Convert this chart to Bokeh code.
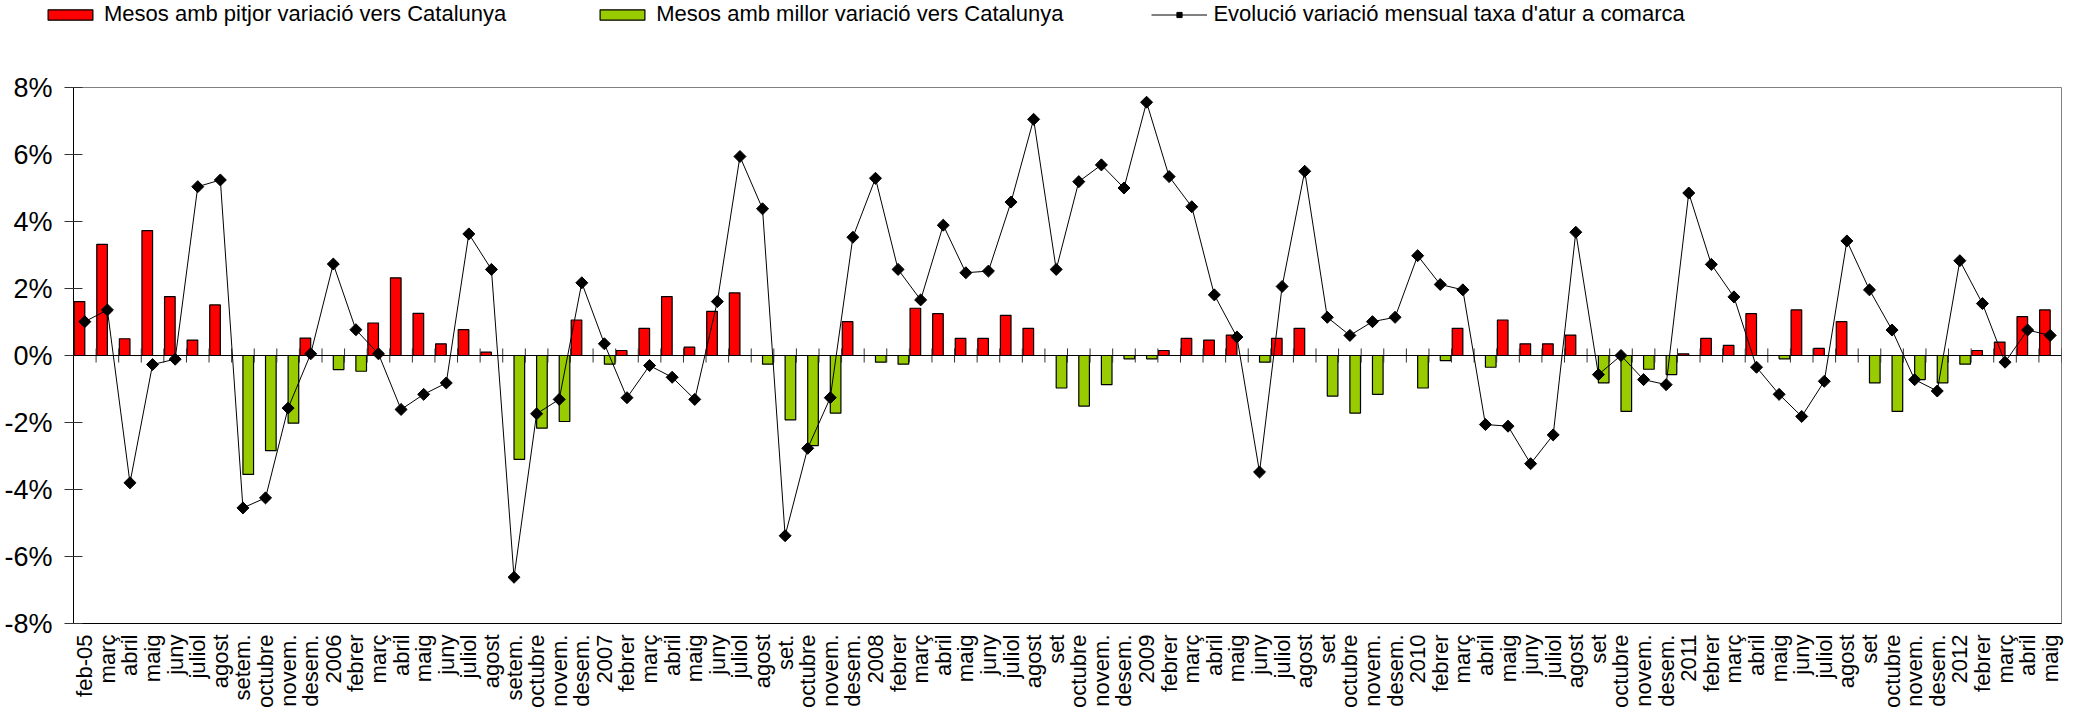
import numpy as np
from math import pi
from bokeh.plotting import figure
from bokeh.layouts import column
from bokeh.models import Range1d, FixedTicker, PrintfTickFormatter, Legend, LegendItem, Span
from bokeh.embed import file_html
from bokeh.resources import INLINE

# ---- data -------------------------------------------------------------
months = [
    "feb-05", "març", "abril", "maig", "juny", "juliol", "agost", "setem.", "octubre", "novem.", "desem.",
    "2006", "febrer", "març", "abril", "maig", "juny", "juliol", "agost", "setem.", "octubre", "novem.", "desem.",
    "2007", "febrer", "març", "abril", "maig", "juny", "juliol", "agost", "set.", "octubre", "novem.", "desem.",
    "2008", "febrer", "març", "abril", "maig", "juny", "juliol", "agost", "set", "octubre", "novem.", "desem.",
    "2009", "febrer", "març", "abril", "maig", "juny", "juliol", "agost", "set", "octubre", "novem.", "desem.",
    "2010", "febrer", "març", "abril", "maig", "juny", "juliol", "agost", "set", "octubre", "novem.", "desem.",
    "2011", "febrer", "març", "abril", "maig", "juny", "juliol", "agost", "set", "octubre", "novem.", "desem.",
    "2012", "febrer", "març", "abril", "maig",
]

# Mesos amb pitjor variació vers Catalunya (%)
pitjor = [
    1.61, 3.32, 0.50, 3.73, 1.76, 0.46, 1.51, None, None, None, 0.52,
    None, None, 0.97, 2.32, 1.26, 0.35, 0.77, 0.10, None, None, None, 1.06,
    None, 0.15, 0.81, 1.76, 0.25, 1.32, 1.87, None, None, None, None, 1.01,
    None, None, 1.41, 1.25, 0.51, 0.51, 1.20, 0.81, None, None, None, None,
    None, 0.15, 0.51, 0.46, 0.61, None, 0.51, 0.81, None, None, None, None,
    None, None, 0.81, None, 1.06, 0.35, 0.35, 0.61, None, None, None, None,
    0.05, 0.51, 0.30, 1.25, None, 1.36, 0.21, 1.01, None, None, None, None,
    None, 0.15, 0.40, 1.16, 1.36,
]

# Mesos amb millor variació vers Catalunya (%)
millor = [
    None, None, None, None, None, None, None, -3.55, -2.84, -2.02, None,
    -0.42, -0.47, None, None, None, None, None, None, -3.10, -2.17, -1.97, None,
    -0.26, None, None, None, None, None, None, -0.26, -1.92, -2.69, -1.72, None,
    -0.20, -0.26, None, None, None, None, None, None, -0.97, -1.51, -0.87, -0.10,
    -0.10, None, None, None, None, -0.20, None, None, -1.21, -1.72, -1.16, None,
    -0.97, -0.15, None, -0.35, None, None, None, None, -0.82, -1.67, -0.41, -0.57,
    None, None, None, None, -0.10, None, None, None, -0.82, -1.67, -0.72, -0.82,
    -0.26, None, None, None, None,
]

# Evolució variació mensual taxa d'atur a comarca (%)
evolucio = [
    1.01, 1.36, -3.80, -0.27, -0.11, 5.04, 5.24, -4.55, -4.25, -1.57, 0.05,
    2.73, 0.77, 0.05, -1.61, -1.16, -0.82, 3.63, 2.57, -6.62, -1.74, -1.31, 2.17,
    0.35, -1.26, -0.30, -0.65, -1.31, 1.61, 5.94, 4.38, -5.38, -2.77, -1.26, 3.53,
    5.29, 2.57, 1.66, 3.89, 2.47, 2.52, 4.58, 7.05, 2.57, 5.19, 5.69, 5.00,
    7.56, 5.34, 4.44, 1.81, 0.55, -3.48, 2.06, 5.50, 1.14, 0.60, 1.01, 1.14,
    2.98, 2.12, 1.96, -2.06, -2.11, -3.23, -2.37, 3.68, -0.57, 0.00, -0.72, -0.87,
    4.85, 2.72, 1.75, -0.35, -1.16, -1.82, -0.77, 3.42, 1.96, 0.76, -0.72, -1.06,
    2.83, 1.55, -0.20, 0.76, 0.60,
]

y_ticks = [-8, -6, -4, -2, 0, 2, 4, 6, 8]

labels = [
    "Mesos amb pitjor variació vers Catalunya",
    "Mesos amb millor variació vers Catalunya",
    "Evolució variació mensual taxa d'atur a comarca",
]

# ---- helpers / styles -------------------------------------------------
def arr(v):
    return np.array([np.nan if a is None else a for a in v], dtype=float)

n = len(months)
xi = np.arange(n)
BAR_W = 0.47
FONT = "Liberation Sans"
RED = "#FF0000"
GREEN = "#99CC00"
LEG_H = 28

red_style = dict(fill_color=RED, line_color="black", line_width=1.2)
green_style = dict(fill_color=GREEN, line_color="black", line_width=1.2)
line_style = dict(line_color="black", line_width=1)
mark_style = dict(marker="square", angle=pi / 4, size=8.5, fill_color="black", line_color="black")

# ---- main chart -------------------------------------------------------
p = figure(
    frame_width=1988, frame_height=536,
    x_range=Range1d(-0.5, n - 0.5), y_range=Range1d(y_ticks[0], y_ticks[-1]),
    output_backend="svg", toolbar_location=None,
    min_border_left=73, min_border_right=5, min_border_top=87 - LEG_H, min_border_bottom=85,
    background_fill_color="white", border_fill_color="white",
)
p.xgrid.visible = False
p.ygrid.visible = False
p.outline_line_color = "#808080"
p.outline_line_width = 1

p.vbar(x=xi - BAR_W / 2, top=arr(pitjor), bottom=0, width=BAR_W, **red_style)
p.vbar(x=xi + BAR_W / 2, top=arr(millor), bottom=0, width=BAR_W, **green_style)

# zero axis line with crossing ticks at category boundaries
p.add_layout(Span(location=0, dimension="width", line_color="black", line_width=1.2))
bounds = np.arange(n + 1) - 0.5
p.segment(x0=bounds, x1=bounds, y0=-0.21, y1=0.21, line_color="#333333", line_width=1)

p.line(x=xi, y=evolucio, **line_style)
p.scatter(x=xi, y=evolucio, **mark_style)

xa = p.xaxis[0]
xa.ticker = FixedTicker(ticks=list(xi))
xa.major_label_overrides = {int(i): m for i, m in zip(xi, months)}
xa.major_label_orientation = pi / 2
xa.major_tick_in = 0
xa.major_tick_out = 0
xa.minor_tick_line_color = None
xa.axis_line_color = "black"
xa.major_label_text_font = FONT
xa.major_label_text_font_size = "22px"
xa.major_label_text_color = "black"
xa.major_label_standoff = 11

ya = p.yaxis[0]
ya.ticker = FixedTicker(ticks=y_ticks)
ya.formatter = PrintfTickFormatter(format="%d%%")
ya.major_tick_in = 9
ya.major_tick_out = 9
ya.minor_tick_line_color = None
ya.axis_line_color = "black"
ya.major_tick_line_color = "#333333"
ya.major_label_text_font = FONT
ya.major_label_text_font_size = "27px"
ya.major_label_text_color = "black"
ya.major_label_standoff = 12

# ---- legend strip on top ---------------------------------------------
lf = figure(
    width=2066, height=LEG_H, x_range=Range1d(0, 1), y_range=Range1d(0, 1),
    output_backend="svg", toolbar_location=None, min_border=0,
    x_axis_type=None, y_axis_type=None, outline_line_color=None,
    background_fill_color="white", border_fill_color="white",
)
leg_x = 42
try:
    lf.frame_align = False
    p.frame_align = False
except Exception:
    leg_x = 0

nan = [np.nan]
lr = lf.vbar(x=nan, top=nan, bottom=0, width=BAR_W, **red_style)
lg = lf.vbar(x=nan, top=nan, bottom=0, width=BAR_W, **green_style)
ll = lf.line(x=nan, y=nan, **line_style)
lm = lf.scatter(x=nan, y=nan, **mark_style)

legend = Legend(
    items=[
        LegendItem(label=labels[0], renderers=[lr]),
        LegendItem(label=labels[1], renderers=[lg]),
        LegendItem(label=labels[2], renderers=[ll, lm]),
    ],
    orientation="horizontal", location=(leg_x, 1), margin=0,
    glyph_width=56, glyph_height=13, label_standoff=6, spacing=88,
    padding=0, border_line_color=None, background_fill_alpha=0,
    label_text_font=FONT, label_text_font_size="22px", label_text_color="black",
)
lf.add_layout(legend, "center")

layout = column(lf, p, spacing=0)
open("out.html", "w").write(file_html(layout, INLINE))
